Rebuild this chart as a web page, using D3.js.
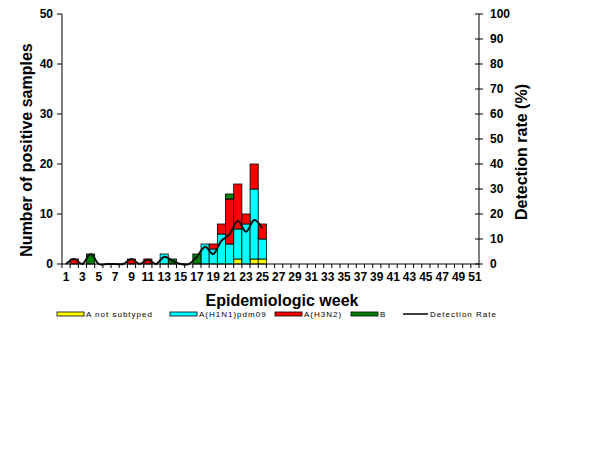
<!DOCTYPE html>
<html>
<head>
<meta charset="utf-8">
<script src="https://cdn.jsdelivr.net/npm/d3@7"></script>
<style>
  body { margin: 0; background: #fff; }
  svg text { font-family: "Liberation Sans", Arial, sans-serif; }
  .tick_labels { font-size: 12px; font-weight: bold; }
  .axis_titles { font-size: 16px; font-weight: bold; }
  .legend_labels { font-size: 8px; letter-spacing: 1px; }
</style>
</head>
<body>
<svg id="chart" width="614" height="460"></svg>
<script>
// weeks 1..51 on the x axis, data only for weeks 1..25
var weeks = d3.range(1, 52);
var weekLabels = weeks.filter(function(w) { return w % 2 == 1; });
var countTicks = [0, 10, 20, 30, 40, 50];
var rateTicks = [0, 10, 20, 30, 40, 50, 60, 70, 80, 90, 100];

var notSubtyped = [0,0,0,0,0,0,0,0,0,0,0,0,0,0,0,0,0,0,0,0,0,1,0,1,1];
var h1n1        = [0,0,0,0,0,0,0,0,0,0,0,0,2,0,0,0,0,4,3,6,4,6,8,14,4];
var h3n2        = [0,1,0,0,0,0,0,0,1,0,1,0,0,0,0,0,0,0,1,2,9,9,2,5,3];
var fluB        = [0,0,0,2,0,0,0,0,0,0,0,0,0,1,0,0,2,0,0,0,1,0,0,0,0];
var detectRate  = [0,2,0,4,0,0,0,0,2,0,1.8,0,2.9,1.3,0,0,2.9,6.9,4,9.3,11.9,17.3,12.9,17.6,14.3];

var seriesNames = ["A not subtyped", "A(H1N1)pdm09", "A(H3N2)", "B"];
var seriesKeys = ["ns", "h1", "h3", "b"];
var colors = {ns: "#ffff00", h1: "#00ffff", h3: "#ff0000", b: "#008000"};

var table = notSubtyped.map(function(v, i) {
  return {week: i+1, ns: v, h1: h1n1[i], h3: h3n2[i], b: fluB[i], rate: detectRate[i]};
});

var svg = d3.select("#chart");
var xLeft = 62, xRight = 479, yTop = 14, yBottom = 264;

var xScale = d3.scaleBand()
               .domain(weeks)
               .range([xLeft, xRight])
               .padding(0);
var yScale = d3.scaleLinear()
               .domain([0, 50])
               .range([yBottom, yTop]);
var rScale = d3.scaleLinear()
               .domain([0, 100])
               .range([yBottom, yTop]);

// stacked bars
var stacked = d3.stack().keys(seriesKeys)(table);
svg.selectAll("series")
    .data(stacked)
    .enter()
    .append("g")
    .style("fill", function(d) { return colors[d.key]; })
    .selectAll("rect")
    .data(function(d) { return d.filter(function(p) { return p[1] > p[0]; }); })
    .enter()
    .append("rect")
    .attr("x", function(d) { return xScale(d.data.week); })
    .attr("width", xScale.bandwidth())
    .attr("y", function(d) { return yScale(d[1]); })
    .attr("height", function(d) { return yScale(d[0]) - yScale(d[1]); })
    .style("stroke", "#000")
    .style("stroke-width", 0.8);

// detection rate line
var line = d3.line()
             .x(function(d) { return xScale(d.week) + xScale.bandwidth()/2; })
             .y(function(d) { return rScale(d.rate); })
             .curve(d3.curveCatmullRom.alpha(0));
svg.append("path")
    .datum(table)
    .attr("d", line)
    .style("fill", "none")
    .style("stroke", "#111")
    .style("stroke-width", 2);

// axes
svg.append("line")
    .attr("x1", xLeft).attr("x2", xLeft)
    .attr("y1", yTop).attr("y2", yBottom)
    .style("stroke", "#000");
svg.append("line")
    .attr("x1", xRight).attr("x2", xRight)
    .attr("y1", yTop).attr("y2", yBottom)
    .style("stroke", "#000");
svg.append("line")
    .attr("x1", xLeft).attr("x2", xRight)
    .attr("y1", yBottom).attr("y2", yBottom)
    .style("stroke", "#000");

svg.selectAll("leftTicks")
    .data(countTicks)
    .enter()
    .append("line")
    .attr("x1", xLeft - 5).attr("x2", xLeft)
    .attr("y1", function(d) { return yScale(d); })
    .attr("y2", function(d) { return yScale(d); })
    .style("stroke", "#000");
svg.selectAll("leftLabels")
    .data(countTicks)
    .enter()
    .append("text")
    .attr("class", "tick_labels")
    .attr("x", xLeft - 9)
    .attr("y", function(d) { return yScale(d) + 4; })
    .text(function(d) { return d; })
    .style("text-anchor", "end");

svg.selectAll("rightTicks")
    .data(rateTicks)
    .enter()
    .append("line")
    .attr("x1", xRight - 4).attr("x2", xRight + 4)
    .attr("y1", function(d) { return rScale(d); })
    .attr("y2", function(d) { return rScale(d); })
    .style("stroke", "#000");
svg.selectAll("rightLabels")
    .data(rateTicks)
    .enter()
    .append("text")
    .attr("class", "tick_labels")
    .attr("x", xRight + 11)
    .attr("y", function(d) { return rScale(d) + 4; })
    .text(function(d) { return d; })
    .style("text-anchor", "start");

svg.selectAll("xTicks")
    .data(weeks.concat([52]))
    .enter()
    .append("line")
    .attr("x1", function(d) { return d == 52 ? xRight : xScale(d); })
    .attr("x2", function(d) { return d == 52 ? xRight : xScale(d); })
    .attr("y1", yBottom).attr("y2", yBottom + 4)
    .style("stroke", "#000");
svg.selectAll("xLabels")
    .data(weekLabels)
    .enter()
    .append("text")
    .attr("class", "tick_labels")
    .attr("x", function(d) { return xScale(d) + xScale.bandwidth()/2; })
    .attr("y", yBottom + 17)
    .text(function(d) { return d; })
    .style("text-anchor", "middle");

// titles
svg.append("text")
    .attr("class", "axis_titles")
    .text("Epidemiologic week")
    .attr("x", 282)
    .attr("y", 306)
    .style("text-anchor", "middle");
svg.append("text")
    .attr("class", "axis_titles")
    .text("Number of positive samples")
    .attr("transform", "translate(32,150) rotate(-90)")
    .style("text-anchor", "middle");
svg.append("text")
    .attr("class", "axis_titles")
    .text("Detection rate (%)")
    .attr("transform", "translate(527,152) rotate(-90)")
    .style("text-anchor", "middle");

// legend
var legendX = [57, 170, 275, 351];
svg.selectAll("legendRects")
    .data(seriesKeys)
    .enter()
    .append("rect")
    .attr("x", function(d, i) { return legendX[i]; })
    .attr("y", 312)
    .attr("width", 27)
    .attr("height", 4)
    .style("fill", function(d) { return colors[d]; })
    .style("stroke", "#000")
    .style("stroke-width", 0.8);
svg.selectAll("legendText")
    .data(seriesNames)
    .enter()
    .append("text")
    .attr("class", "legend_labels")
    .attr("x", function(d, i) { return legendX[i] + 29; })
    .attr("y", 317)
    .text(function(d) { return d; });
svg.append("line")
    .attr("x1", 403).attr("x2", 428)
    .attr("y1", 314).attr("y2", 314)
    .style("stroke", "#000")
    .style("stroke-width", 1.5);
svg.append("text")
    .attr("class", "legend_labels")
    .attr("x", 430)
    .attr("y", 317)
    .text("Detection Rate");
</script>
</body>
</html>
